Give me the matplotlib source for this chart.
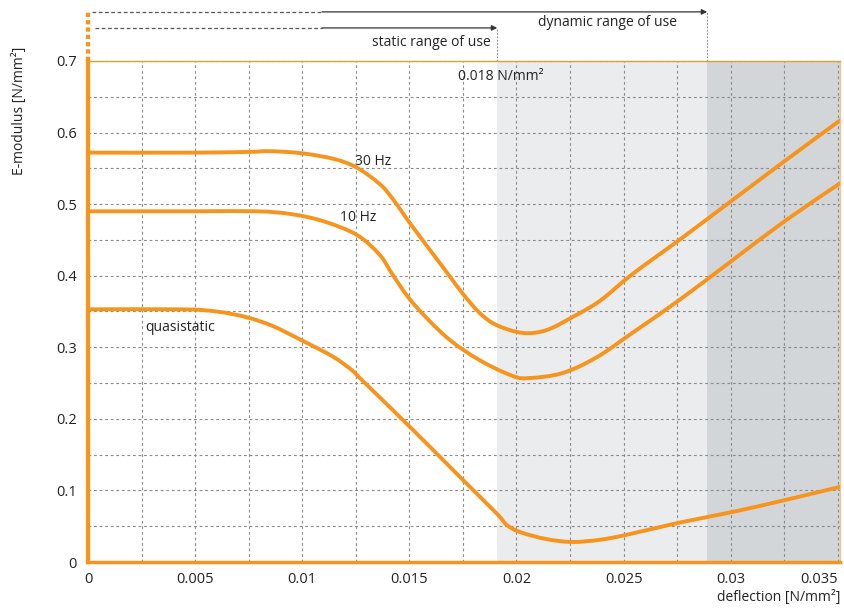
import numpy as np
import matplotlib
matplotlib.use('Agg')
import matplotlib.pyplot as plt
from matplotlib.ticker import MultipleLocator
from matplotlib.path import Path
from matplotlib.patches import PathPatch

plt.rcParams['font.family'] = ['Open Sans', 'DejaVu Sans']

orange = '#f7941d'

# curve points (deflection, E-modulus)
hz30_x = [0, 0.005, 0.0075, 0.0085, 0.0100, 0.01150, 0.01255, 0.01362, 0.01423, 0.01516,
          0.01674, 0.01749, 0.01828, 0.01907, 0.0203, 0.0214, 0.0226, 0.0239, 0.0254,
          0.0276, 0.0301, 0.0326, 0.0351]
hz30_y = [0.572, 0.572, 0.573, 0.574, 0.571, 0.563, 0.551, 0.528, 0.507, 0.468,
          0.405, 0.375, 0.348, 0.331, 0.320, 0.324, 0.342, 0.365, 0.402,
          0.450, 0.506, 0.562, 0.617]

hz10_x = [0, 0.005, 0.0079, 0.0095, 0.0110, 0.01255, 0.01362, 0.01423, 0.01516, 0.01674,
          0.01828, 0.01982, 0.0206, 0.02215, 0.02374, 0.0254, 0.0276, 0.0301, 0.0326, 0.0351]
hz10_y = [0.490, 0.490, 0.490, 0.486, 0.476, 0.457, 0.429, 0.401, 0.362, 0.314,
          0.282, 0.260, 0.257, 0.264, 0.286, 0.320, 0.366, 0.422, 0.478, 0.529]

quasi_x = [0, 0.0044, 0.0060, 0.0074, 0.0086, 0.00989, 0.01143, 0.01236, 0.01269, 0.01502,
           0.01749, 0.01907, 0.01954, 0.02015, 0.0214, 0.0226, 0.02388, 0.02514, 0.0276,
           0.0301, 0.0326, 0.0351]
quasi_y = [0.353, 0.353, 0.350, 0.342, 0.330, 0.311, 0.287, 0.267, 0.257, 0.189,
           0.115, 0.068, 0.052, 0.042, 0.032, 0.028, 0.031, 0.038, 0.055,
           0.070, 0.087, 0.105]

static_end = 0.0191
dynamic_end = 0.0289
x_max = 0.0351


def smooth_curve(ax, xs, ys, **kw):
    # bezier path through the read points (catmull-rom style handles)
    pts = np.column_stack([xs, ys])
    ext = np.vstack([pts[0], pts, pts[-1]])
    verts = [pts[0]]
    codes = [Path.MOVETO]
    for i in range(1, len(ext) - 2):
        p0, p1, p2, p3 = ext[i - 1], ext[i], ext[i + 1], ext[i + 2]
        verts += [p1 + (p2 - p0) / 6, p2 - (p3 - p1) / 6, p2]
        codes += [Path.CURVE4] * 3
    patch = PathPatch(Path(verts, codes), fill=False, **kw)
    ax.add_patch(patch)


fig = plt.figure(figsize=(8.45, 6.09), dpi=100)
ax = fig.add_axes([88/845, 47/609, 752/845, 501/609])

ax.axvspan(static_end, dynamic_end, color='#ebeced', zorder=0, lw=0)
ax.axvspan(dynamic_end, x_max, color='#d3d6d9', zorder=0, lw=0)

for xs, ys in [(hz30_x, hz30_y), (hz10_x, hz10_y), (quasi_x, quasi_y)]:
    smooth_curve(ax, xs, ys, edgecolor=orange, lw=2.8, capstyle='round', zorder=3)

ax.set_xlim(0, x_max)
ax.set_ylim(0, 0.7)
ax.xaxis.set_minor_locator(MultipleLocator(0.0025))
ax.yaxis.set_minor_locator(MultipleLocator(0.05))
ax.set_xticks([0, 0.005, 0.01, 0.015, 0.02, 0.025, 0.03, 0.035])
ax.set_xticklabels(['0', '0.005', '0.01', '0.015', '0.02', '0.025', '0.03', '0.035'])
ax.set_yticks([0, 0.1, 0.2, 0.3, 0.4, 0.5, 0.6, 0.7])
ax.set_yticklabels(['0', '0.1', '0.2', '0.3', '0.4', '0.5', '0.6', '0.7'])
ax.tick_params(which='both', length=0, labelsize=10.5, colors='#222222')
ax.tick_params(axis='x', pad=7)
ax.tick_params(axis='y', pad=8)
lbls = ax.get_xticklabels()
lbls[-1].set_horizontalalignment('right')

ax.grid(which='both', color='#8a8a8a', linestyle=(0, (2.5, 2.5)), lw=0.8, zorder=1)
ax.set_axisbelow(True)

ax.spines['left'].set_color(orange)
ax.spines['left'].set_linewidth(3.1)
ax.spines['bottom'].set_color(orange)
ax.spines['bottom'].set_linewidth(2.5)
ax.spines['top'].set_color(orange)
ax.spines['top'].set_linewidth(0.9)
ax.spines['right'].set_color('#f3c58a')
ax.spines['right'].set_linewidth(0.9)
for s in ax.spines.values():
    s.set_zorder(4)

# curve labels
ax.text(0.01245, 0.559, '30 Hz', fontsize=10, va='center', color='#222222', zorder=5)
ax.text(0.01175, 0.482, '10 Hz', fontsize=10, va='center', color='#222222', zorder=5)
ax.text(0.00266, 0.328, 'quasistatic', fontsize=10, va='center', color='#222222', zorder=5)
ax.text(0.01726, 0.679, '0.018 N/mm²', fontsize=10, va='center', color='#222222', zorder=5)

# range arrows above the plot
tr = ax.get_xaxis_transform()
ax.plot([0, 0], [1.0, 1.098], transform=tr, color=orange, lw=3.1,
        linestyle=(0, (1, 0.7)), clip_on=False, solid_capstyle='butt')
ax.plot([static_end, static_end], [1.0, 1.066], transform=tr, color='#8a8a8a',
        lw=0.8, linestyle=(0, (1.5, 1.5)), clip_on=False)
ax.plot([dynamic_end, dynamic_end], [1.0, 1.098], transform=tr, color='#8a8a8a',
        lw=0.8, linestyle=(0, (1.5, 1.5)), clip_on=False)

ax.plot([0.0002, 0.01092], [1.098, 1.098], transform=tr, color='#555555',
        lw=0.9, linestyle=(0, (3, 2)), clip_on=False)
ax.plot([0.00033, 0.01092], [1.066, 1.066], transform=tr, color='#555555',
        lw=0.9, linestyle=(0, (3, 2)), clip_on=False)
ax.annotate('', xy=(dynamic_end, 1.098), xytext=(0.01092, 1.098), xycoords=tr,
            textcoords=tr, annotation_clip=False,
            arrowprops=dict(arrowstyle='-|>', color='#333333', lw=0.9,
                            mutation_scale=8, shrinkA=0, shrinkB=0))
ax.annotate('', xy=(static_end, 1.066), xytext=(0.01092, 1.066), xycoords=tr,
            textcoords=tr, annotation_clip=False,
            arrowprops=dict(arrowstyle='-|>', color='#333333', lw=0.9,
                            mutation_scale=8, shrinkA=0, shrinkB=0))

ax.text(static_end - 0.0003, 1.036, 'static range of use', transform=tr, fontsize=10,
        ha='right', va='center', color='#222222')
ax.text(0.02425, 1.077, 'dynamic range of use', transform=tr, fontsize=10,
        ha='center', va='center', color='#222222')

fig.text(20/845, 1 - 111/609, 'E-modulus [N/mm²]', rotation=90, fontsize=10,
         ha='center', va='center', color='#222222')
fig.text(840/845, 1 - 597/609, 'deflection [N/mm²]', fontsize=10,
         ha='right', va='center', color='#222222')

fig.savefig('out.png', dpi=100)
